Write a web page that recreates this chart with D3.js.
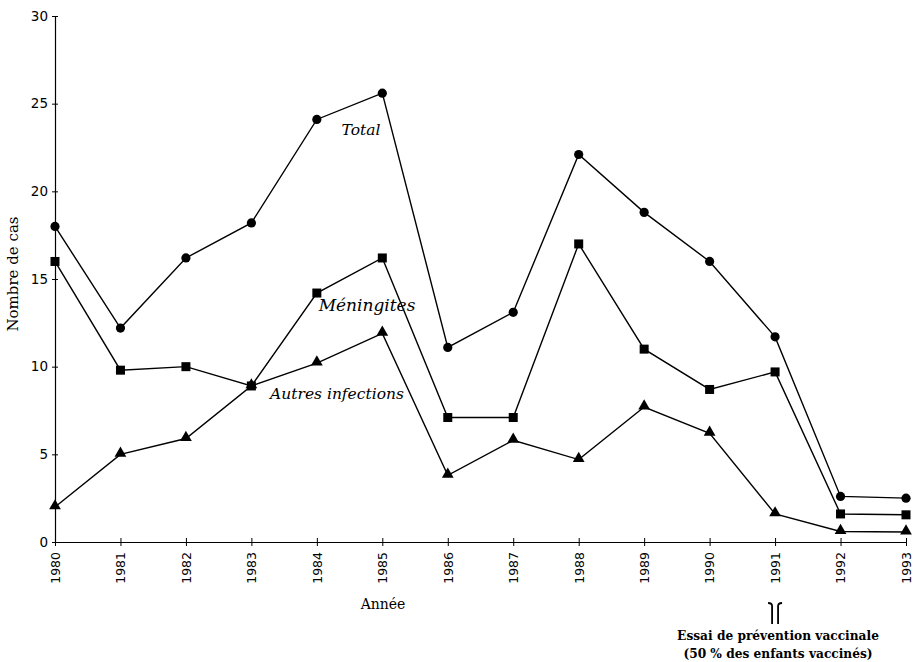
<!DOCTYPE html>
<html lang="fr">
<head>
<meta charset="utf-8">
<style>
  body { margin: 0; background: #fff; }
  svg { display: block; }
</style>
</head>
<body>
<svg id="chart"></svg>
<script src="https://cdn.jsdelivr.net/npm/d3@7/dist/d3.min.js"></script>
<script>

    // data
    var years = [1980, 1981, 1982, 1983, 1984, 1985, 1986, 1987, 1988, 1989, 1990, 1991, 1992, 1993];
    var total = [18.0, 12.2, 16.2, 18.2, 24.1, 25.6, 11.1, 13.1, 22.1, 18.8, 16.0, 11.7, 2.6, 2.5];
    var meningites = [16.0, 9.8, 10.0, 8.9, 14.2, 16.2, 7.1, 7.1, 17.0, 11.0, 8.7, 9.7, 1.6, 1.55];
    var autres = [2.0, 5.0, 5.9, 8.9, 10.2, 11.9, 3.8, 5.8, 4.7, 7.7, 6.2, 1.6, 0.6, 0.57];
    var yTicks = [0, 5, 10, 15, 20, 25, 30];

    var width = 916, height = 662;
    var svg = d3.select("#chart").attr("width", width).attr("height", height);

    var x = d3.scaleLinear().domain([1980, 1993]).range([55, 906]);
    var y = d3.scaleLinear().domain([0, 30]).range([542, 16]);

    var serif = "'DejaVu Serif', 'Liberation Serif', serif";
    var sans = "'DejaVu Sans', Verdana, sans-serif";

    // y axis
    var yAxis = d3.axisLeft(y).tickValues(yTicks).tickSize(0).tickPadding(7);
    var gy = svg.append("g").attr("transform", "translate(" + x(1980) + ",0)").call(yAxis);
    gy.select(".domain").attr("stroke", "#000").attr("stroke-width", 1.2);
    gy.selectAll(".tick line").attr("x1", -3).attr("x2", 3).attr("stroke", "#000");
    gy.selectAll(".tick text").attr("font-family", sans).attr("font-size", "13.5px").attr("fill", "#000");

    // x axis
    var xAxis = d3.axisBottom(x).tickValues(years).tickFormat(d3.format("d")).tickSize(0);
    var gx = svg.append("g").attr("transform", "translate(0," + y(0) + ")").call(xAxis);
    gx.select(".domain").attr("stroke", "#000").attr("stroke-width", 1.2);
    gx.selectAll(".tick line").attr("y1", -4).attr("y2", 4).attr("stroke", "#000");
    gx.selectAll(".tick text")
        .attr("font-family", sans).attr("font-size", "12.5px").attr("fill", "#000")
        .attr("transform", "rotate(-90)")
        .attr("text-anchor", "end")
        .attr("dy", "0.35em")
        .attr("x", -10).attr("y", 0);

    // axis titles
    svg.append("text")
        .attr("transform", "translate(18,274) rotate(-90)")
        .attr("text-anchor", "middle")
        .attr("font-family", serif).attr("font-size", "15px")
        .text("Nombre de cas");
    svg.append("text")
        .attr("x", 383).attr("y", 609)
        .attr("text-anchor", "middle")
        .attr("font-family", serif).attr("font-size", "14px")
        .text("Année");

    var line = d3.line()
        .x(function (d, i) { return x(years[i]); })
        .y(function (d) { return y(d); });

    var series = [total, meningites, autres];
    series.forEach(function (s) {
        svg.append("path")
            .attr("d", line(s))
            .attr("fill", "none")
            .attr("stroke", "#000")
            .attr("stroke-width", 1.4);
    });

    // markers
    svg.append("g").selectAll("circle")
        .data(total).enter().append("circle")
        .attr("cx", function (d, i) { return x(years[i]); })
        .attr("cy", function (d) { return y(d); })
        .attr("r", 4.6);

    svg.append("g").selectAll("rect")
        .data(meningites).enter().append("rect")
        .attr("x", function (d, i) { return x(years[i]) - 4.5; })
        .attr("y", function (d) { return y(d) - 4.5; })
        .attr("width", 9).attr("height", 9);

    var tri = d3.symbol().type(d3.symbolTriangle).size(60);
    svg.append("g").selectAll("path")
        .data(autres).enter().append("path")
        .attr("d", tri)
        .attr("transform", function (d, i) { return "translate(" + x(years[i]) + "," + (y(d) - 1) + ")"; });

    // series labels
    var labels = [
        {text: "Total", x: 361, y: 135, size: 15.5},
        {text: "Méningites", x: 367, y: 311, size: 17},
        {text: "Autres infections", x: 337, y: 399, size: 15.5}
    ];
    svg.append("g").selectAll("text")
        .data(labels).enter().append("text")
        .attr("x", function (d) { return d.x; })
        .attr("y", function (d) { return d.y; })
        .attr("text-anchor", "middle")
        .attr("font-family", serif).attr("font-style", "italic")
        .attr("font-size", function (d) { return d.size + "px"; })
        .text(function (d) { return d.text; });

    // annotation under 1991
    var ax = x(1991) + 1;
    var arrow = svg.append("g").attr("fill", "none").attr("stroke", "#000").attr("stroke-width", 1.8);
    arrow.append("path").attr("d", "M" + (ax - 4) + ",624 L" + (ax - 4) + ",606 Q" + (ax - 4) + ",603 " + (ax - 8) + ",603");
    arrow.append("path").attr("d", "M" + (ax + 2) + ",624 L" + (ax + 2) + ",606 Q" + (ax + 2) + ",603 " + (ax + 6) + ",603");

    var note = svg.append("text")
        .attr("text-anchor", "middle")
        .attr("font-family", serif).attr("font-weight", "bold").attr("font-size", "12.2px");
    note.append("tspan").attr("x", 778).attr("y", 640).text("Essai de prévention vaccinale");
    note.append("tspan").attr("x", 778).attr("y", 658).text("(50 % des enfants vaccinés)");

</script>
</body>
</html>
